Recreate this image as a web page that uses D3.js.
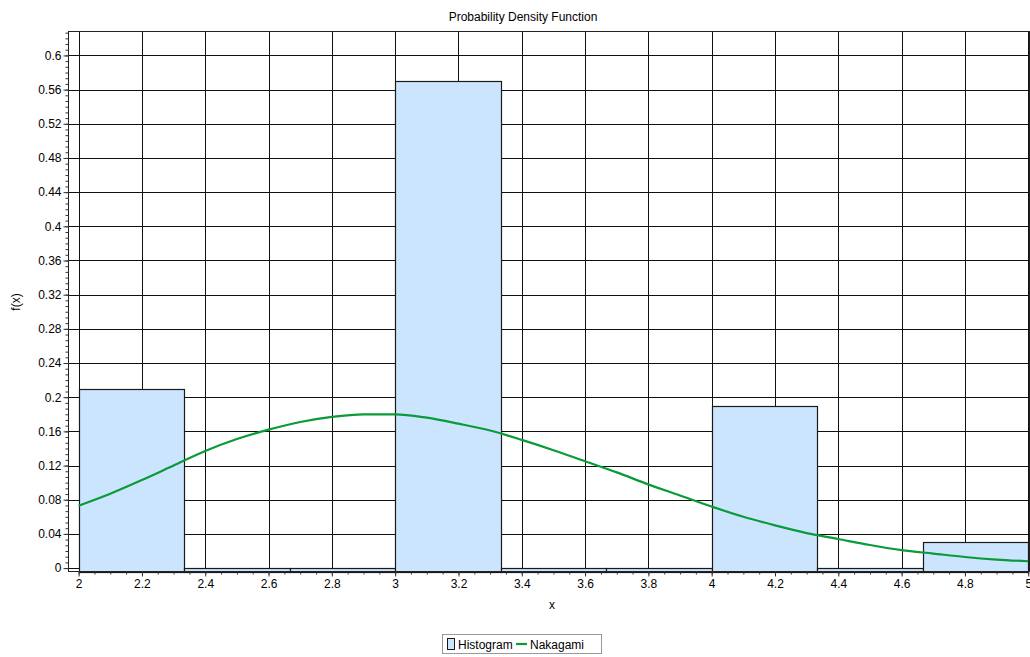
<!DOCTYPE html>
<html>
<head>
<meta charset="utf-8">
<script src="https://cdn.jsdelivr.net/npm/d3@7"></script>
<style>
  body { margin: 0; background: #fff; }
  svg { display: block; font-family: "Liberation Sans", Arial, sans-serif; }
</style>
</head>
<body>
<svg id="chart" width="1030" height="657"></svg>
<script>
// histogram bins (left edge, right edge) and heights
const binEdges = [2, 2.3333, 2.6667, 3, 3.3333, 3.6667, 4, 4.3333, 4.6667, 5];
const binValues = [0.21, 0, 0, 0.57, 0, 0, 0.19, 0, 0.03];

// Nakagami curve
const curveX = [2.0, 2.1, 2.2, 2.3, 2.4, 2.5, 2.6, 2.7, 2.8, 2.9, 3.0,
                3.1, 3.2, 3.3, 3.4, 3.5, 3.6, 3.7, 3.8, 3.9, 4.0,
                4.1, 4.2, 4.3, 4.4, 4.5, 4.6, 4.7, 4.8, 4.9, 5.0];
const curveY = [0.073, 0.087, 0.103, 0.120, 0.137, 0.151, 0.162, 0.171, 0.177, 0.180, 0.180,
                0.176, 0.169, 0.161, 0.150, 0.138, 0.125, 0.112, 0.098, 0.085, 0.072,
                0.060, 0.050, 0.041, 0.034, 0.027, 0.021, 0.017, 0.013, 0.010, 0.008];

// tick values
const xTicks = [2, 2.2, 2.4, 2.6, 2.8, 3, 3.2, 3.4, 3.6, 3.8, 4, 4.2, 4.4, 4.6, 4.8, 5];
const yTicks = [0, 0.04, 0.08, 0.12, 0.16, 0.2, 0.24, 0.28, 0.32, 0.36, 0.4, 0.44, 0.48, 0.52, 0.56, 0.6];

const svg = d3.select("#chart");

const plot = { left: 68.5, top: 31.5, right: 1029.5, bottom: 571.5 };

const x = d3.scaleLinear().domain([1.968, 5.004]).range([plot.left, plot.right]);
const y = d3.scaleLinear().domain([-0.004, 0.628]).range([plot.bottom, plot.top]);

// 격자
const grid = svg.append("g");
grid.selectAll(".vgrid")
    .data(xTicks)
    .enter()
    .append("line")
    .attr("x1", d => Math.round(x(d)) + 0.5)
    .attr("x2", d => Math.round(x(d)) + 0.5)
    .attr("y1", plot.top)
    .attr("y2", plot.bottom)
    .attr("stroke", "#111")
    .attr("stroke-width", 1);

grid.selectAll(".hgrid")
    .data(yTicks)
    .enter()
    .append("line")
    .attr("x1", plot.left)
    .attr("x2", plot.right)
    .attr("y1", d => Math.round(y(d)) + 0.5)
    .attr("y2", d => Math.round(y(d)) + 0.5)
    .attr("stroke", "#111")
    .attr("stroke-width", 1);

// 히스토그램 막대
svg.append("g")
    .selectAll("rect")
    .data(binValues)
    .enter()
    .append("rect")
    .attr("x", (d, i) => Math.round(x(binEdges[i])) + 0.5)
    .attr("width", (d, i) => Math.round(x(binEdges[i + 1])) - Math.round(x(binEdges[i])))
    .attr("y", d => Math.round(y(d)) + 0.5)
    .attr("height", d => Math.round(plot.bottom) - Math.round(y(d)))
    .attr("fill", "#cce5ff")
    .attr("stroke", "#1a1a1a")
    .attr("stroke-width", 1.2);

// Nakagami 곡선
const line = d3.line()
    .x(d => x(d[0]))
    .y(d => y(d[1]))
    .curve(d3.curveMonotoneX);

svg.append("path")
    .datum(curveX.map((v, i) => [v, curveY[i]]))
    .attr("fill", "none")
    .attr("stroke", "#0a9a3a")
    .attr("stroke-width", 2.2)
    .attr("d", line);

// 프레임
svg.append("rect")
    .attr("x", plot.left)
    .attr("y", plot.top)
    .attr("width", plot.right - plot.left)
    .attr("height", plot.bottom - plot.top)
    .attr("fill", "none")
    .attr("stroke", "#222")
    .attr("stroke-width", 1);

// 축
const yMinor = d3.range(0, 0.628, 0.04 / 6).filter(v => v < 0.628);
const xMinor = d3.range(2, 5.001, 0.05);

svg.append("g")
    .attr("transform", `translate(${plot.left},0)`)
    .call(d3.axisLeft(y).tickValues(yMinor).tickSize(3).tickFormat(""))
    .call(g => g.select(".domain").remove())
    .selectAll("line").attr("stroke", "#333");

svg.append("g")
    .attr("transform", `translate(${plot.left},0)`)
    .call(d3.axisLeft(y).tickValues(yTicks).tickSize(5).tickPadding(2)
        .tickFormat(d => String(+d.toFixed(2))))
    .call(g => g.select(".domain").remove())
    .call(g => g.selectAll("line").attr("stroke", "#333"))
    .selectAll("text")
    .style("font-size", "12px")
    .style("font-family", "Liberation Sans, Arial, sans-serif")
    .attr("fill", "#000");

svg.append("g")
    .attr("transform", `translate(0,${plot.bottom})`)
    .call(d3.axisBottom(x).tickValues(xMinor).tickSize(3).tickFormat(""))
    .call(g => g.select(".domain").remove())
    .selectAll("line").attr("stroke", "#333");

svg.append("g")
    .attr("transform", `translate(0,${plot.bottom})`)
    .call(d3.axisBottom(x).tickValues(xTicks).tickSize(5).tickPadding(3)
        .tickFormat(d => String(+d.toFixed(1))))
    .call(g => g.select(".domain").remove())
    .call(g => g.selectAll("line").attr("stroke", "#333"))
    .selectAll("text")
    .style("font-size", "12px")
    .style("font-family", "Liberation Sans, Arial, sans-serif")
    .attr("fill", "#000");

// 제목, 축 이름
svg.append("text")
    .attr("x", 523)
    .attr("y", 21)
    .attr("text-anchor", "middle")
    .style("font-size", "12px")
    .text("Probability Density Function");

svg.append("text")
    .attr("x", 552)
    .attr("y", 609)
    .attr("text-anchor", "middle")
    .style("font-size", "12px")
    .text("x");

svg.append("text")
    .attr("transform", "translate(20,302) rotate(-90)")
    .attr("text-anchor", "middle")
    .style("font-size", "12px")
    .text("f(x)");

// 범례
const legend = svg.append("g").attr("transform", "translate(442,634)");
legend.append("rect")
    .attr("x", 0.5).attr("y", 0.5)
    .attr("width", 159).attr("height", 19)
    .attr("fill", "#fff")
    .attr("stroke", "#999");
legend.append("rect")
    .attr("x", 5.5).attr("y", 4.5)
    .attr("width", 7).attr("height", 11)
    .attr("fill", "#cce5ff")
    .attr("stroke", "#1a1a1a");
legend.append("text")
    .attr("x", 16).attr("y", 14.5)
    .style("font-size", "12px")
    .text("Histogram");
legend.append("line")
    .attr("x1", 74).attr("x2", 85)
    .attr("y1", 10).attr("y2", 10)
    .attr("stroke", "#0a9a3a")
    .attr("stroke-width", 2.2);
legend.append("text")
    .attr("x", 88).attr("y", 14.5)
    .style("font-size", "12px")
    .text("Nakagami");
</script>
</body>
</html>
